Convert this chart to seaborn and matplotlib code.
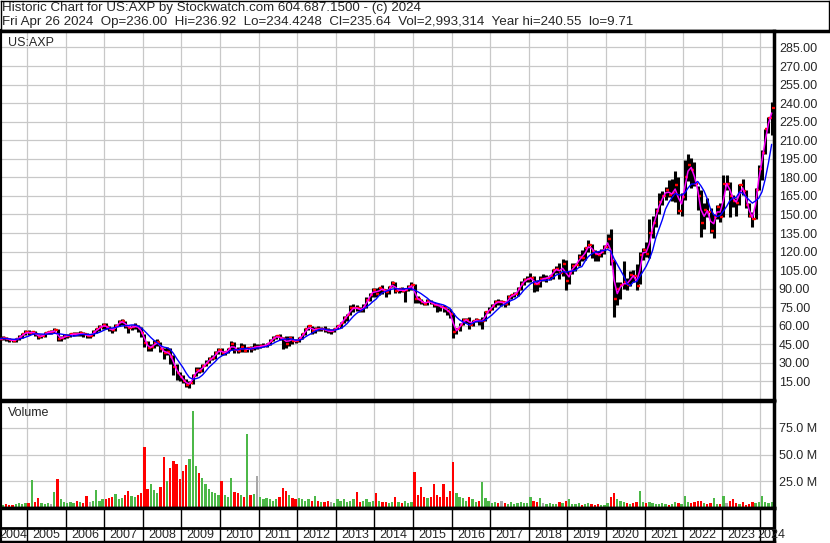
import numpy as np
import pandas as pd
import seaborn as sns
import matplotlib.pyplot as plt

title_line = "Historic Chart for US:AXP by Stockwatch.com 604.687.1500 - (c) 2024"
info_line = ("Fri Apr 26 2024  Op=236.00  Hi=236.92  Lo=234.4248  Cl=235.64  "
             "Vol=2,993,314  Year hi=240.55  lo=9.71")
symbol = "US:AXP"

# monthly values, Apr 2004 .. Apr 2024
close = [
    49.5, 50, 49.5, 48.5, 48, 49, 51, 53, 55,
    54, 55, 53, 51, 52, 54, 55, 55, 56.5, 49.5, 50, 51.5,
    52, 53, 53.5, 53, 54, 53, 52, 52, 55, 57, 59, 60.5,
    59, 57, 56.5, 60, 63, 63.5, 60, 58.5, 59, 60, 58, 54,
    46, 42, 43, 46, 46.5, 41, 38, 39, 35, 27, 22, 18.5,
    15.5, 12.5, 13.5, 19.5, 24, 23.5, 27.5, 30, 33, 34, 38, 40.5,
    38, 38.5, 41, 45, 40.5, 40, 43, 40, 42, 41.5, 43, 43,
    43.5, 44, 45, 48, 50.5, 51.5, 50, 49.5, 45.5, 50, 48, 47.5,
    50, 53, 57, 59.5, 56, 57.5, 57, 57.5, 56.5, 55.5, 55.5, 57,
    60, 62.5, 66.5, 69, 74, 74.5, 74, 72.5, 75.5, 81, 85, 89,
    86, 90.5, 89, 87, 91, 94.5, 88, 89.5, 88, 89, 91.5, 93,
    82, 81.5, 79, 78, 80, 78.5, 77, 76.5, 75, 74, 72, 69.5,
    55, 57, 61, 64.5, 65, 61, 64, 64.5, 63.5, 64, 71, 73,
    76, 79.5, 79, 79, 77.5, 83, 84.5, 85.5, 89.5, 94, 97, 98,
    99, 94, 93.5, 98, 98, 99, 100, 105, 106, 103, 110, 96,
    103, 108, 109, 116, 115, 122.5, 125, 120.5, 118, 117.5, 120, 124,
    130, 112, 82, 90, 93, 95, 93, 101, 100, 92, 117, 121,
    118, 135, 143, 153, 160, 165, 170, 166, 167, 174, 153, 164,
    180, 190, 186, 175, 165, 143, 154, 152, 137, 148, 156, 148,
    175, 175, 165, 161, 159, 174, 169, 158, 149, 146, 170, 187,
    200, 219, 228, 236,
]
high = [
    51, 51.5, 51, 50.5, 49.5, 50.5, 52.5, 54.5, 56.5,
    56.5, 56, 56, 53.5, 53, 55, 56, 56.5, 58, 57, 51.5, 53,
    53.5, 54.5, 55, 55, 55.5, 55, 54, 53.5, 56.5, 58.5, 60.5, 62,
    62, 60, 58.5, 61.5, 65, 65.5, 64, 61, 61, 62.5, 61, 59,
    53, 48, 45, 48.5, 49, 47, 42, 43, 42, 36, 29, 23,
    20, 17, 15.5, 21, 27, 26.5, 29, 32, 35, 36.5, 40, 42,
    42, 40, 42, 48, 47, 43, 46, 45, 43, 43.5, 46, 45,
    45, 46, 46, 49.5, 52, 52.5, 53, 51, 52, 51.5, 52, 49,
    51, 54, 58, 61, 60, 59, 59.5, 59, 60, 58, 57, 58,
    61, 63, 68, 69.5, 77, 78, 77, 75.5, 77.5, 83, 86.5, 90.5,
    90.5, 91.5, 93, 90, 92, 96, 95.5, 90.5, 91, 90.5, 93, 95,
    93.5, 84, 82, 79.5, 81.5, 80.5, 79.5, 78.5, 77, 76.5, 74.5, 73.5,
    70, 58, 62, 66, 66.5, 67, 65, 66, 65.5, 67, 72, 75.5,
    78, 81, 81.5, 80.5, 80, 84.5, 86, 87, 91, 96, 98.5, 100.5,
    102.5, 100, 97, 100, 102, 101, 101, 106, 108, 111, 114, 113,
    104.5, 111, 111, 118, 121, 124, 129, 126, 121, 120.5, 122, 125.5,
    134, 138, 113, 95, 95, 112, 99, 104, 105, 110, 120, 123,
    128, 146, 149, 155, 167, 169, 172, 178, 179, 185, 180, 167,
    194, 199, 196, 192, 173, 170, 159, 163, 155, 150, 158, 159,
    182, 182, 176, 166, 163, 175, 179, 170, 159, 152, 171, 190,
    202, 219, 229, 241,
]
low = [
    47.5, 48.5, 48, 47, 46.5, 47, 48.5, 50.5, 52.5,
    52.5, 53, 51.5, 49.5, 50, 51, 53, 53.5, 54, 47.5, 47.5, 49,
    50, 51, 52, 51.5, 52, 51, 50, 50, 51.5, 54, 56, 57.5,
    57, 55.5, 54, 56, 59.5, 61, 58.5, 54.5, 56.5, 57.5, 55, 51,
    43, 40, 39.5, 42, 44, 38.5, 33, 36, 29, 20, 16, 15.5,
    14, 10.5, 9.7, 13, 19, 22, 22.5, 27.5, 30, 32, 33.5, 37.5,
    36.5, 36, 38, 40.5, 38, 38, 39, 39, 39, 38.5, 40.5, 41.5,
    42, 42.5, 42.5, 44.5, 47.5, 49, 48.5, 41.5, 42, 44, 45.5, 46,
    47, 49.5, 52.5, 56.5, 53, 54, 55.5, 56, 55, 54, 53.5, 55,
    57, 58.5, 62, 64, 68.5, 71.5, 72, 71, 71.5, 74.5, 80, 83,
    83.5, 84.5, 86, 83, 86, 91, 86.5, 86.5, 87.5, 79, 88, 89,
    78.5, 78.5, 77.5, 76.5, 77, 77.5, 75, 71.5, 72, 71, 69, 66.5,
    50.5, 53, 56, 60.5, 62.5, 57.5, 59.5, 63, 61, 57.5, 64, 70,
    72.5, 75.5, 77, 76, 75.5, 76.5, 82, 83, 84, 89, 93, 95,
    95, 87.5, 88, 91, 96.5, 95, 97, 98, 103, 98, 100, 89,
    94, 101.5, 104, 108.5, 112, 113.5, 120, 115, 112, 112.5, 116, 118,
    123, 109, 67, 77, 82, 90, 89, 92, 95, 89, 94, 113,
    116, 115, 131, 140, 150, 158, 162, 164, 161, 160, 150, 149,
    162, 177, 171, 173, 154, 132, 138, 148, 135, 131, 146, 144,
    148, 170, 148, 156, 149, 158, 166, 155, 148, 140, 146, 170,
    178, 199, 216, 214,
]
volume_m = [
    4, 3, 4, 3, 3, 4, 5, 4, 5,
    5, 26, 6, 9, 5, 4, 5, 4, 15, 27, 8, 6,
    5, 6, 5, 7, 6, 5, 11, 6, 7, 17, 7, 8,
    8, 9, 10, 13, 8, 9, 12, 16, 11, 10, 12, 14,
    57, 18, 22, 17, 14, 20, 48, 25, 37, 44, 41, 27,
    35, 40, 46, 91, 39, 33, 28, 22, 18, 15, 14, 12,
    25, 12, 10, 28, 15, 14, 12, 10, 69, 12, 13, 30,
    10, 8, 9, 8, 7, 8, 10, 19, 16, 12, 9, 8,
    9, 8, 7, 8, 7, 11.5, 7, 6, 6, 7, 6, 5,
    8, 7, 8, 6, 7, 8, 14.5, 6, 7, 8, 6, 7,
    14, 7, 6, 6, 5, 6, 10.5, 6, 5, 7, 5, 6,
    34, 12, 20, 10, 9, 10, 22, 12, 10, 22, 10, 16,
    43, 14, 10, 9, 7, 10.5, 8, 6, 7, 24, 9, 7,
    5, 6, 5, 7, 5, 4, 6, 4, 5, 6, 5, 5,
    10.5, 7, 6, 9, 5, 4, 5, 4, 4, 6, 5, 7,
    8, 4, 4, 5, 3, 4, 5, 4, 3, 4, 3, 3,
    5, 10, 14, 8, 7, 6, 5, 4, 5, 6, 15.5, 6,
    5, 6, 5, 4, 4, 5, 4, 3, 4, 6, 5, 4,
    11.5, 6, 5, 6, 7, 7, 5, 4, 5, 9.5, 4, 4,
    11.5, 5, 7, 8, 5, 4, 6, 3, 4, 6, 5, 6,
    11.5, 6, 5, 6,
]
years = list(range(2004, 2025))
price_ticks = list(range(15, 286, 15))
volume_ticks = [25, 50, 75]

sns.set_style("white")
plt.rcParams['font.family'] = ['Liberation Sans', 'DejaVu Sans']
FS = 9
FS_HEAD = 9.6

n = len(close)
df = pd.DataFrame({
    'x': 2004.25 + (np.arange(n) + 0.5) / 12,
    'close': close, 'high': high, 'low': low, 'volume': volume_m,
})
df['ma_short'] = df['close'].rolling(2, min_periods=1).mean()
df['ma_long'] = df['close'].rolling(6, min_periods=1).mean()
prev = df['close'].shift(1).fillna(df['close'])
df['color'] = np.where(df['close'] > prev, '#4cb848',
                       np.where(df['close'] < prev, '#ff0000', '#a8a8a8'))

W, H = 830, 543


def box(l, t, r, b):
    return [l / W, 1 - b / H, (r - l) / W, (b - t) / H]


def px_year(px):
    return 2005 + (px - 27) / 38.6


x_lo, x_hi = px_year(0), px_year(774)
grid_kw = dict(color='#c8c8c8', lw=0.9)

fig = plt.figure(figsize=(8.3, 5.43), dpi=100)

# header
ax_h = fig.add_axes(box(0.5, 0.5, 828.5, 31))
ax_h.set_xticks([])
ax_h.set_yticks([])
for s in ['top', 'left', 'right']:
    ax_h.spines[s].set_linewidth(1)
ax_h.spines['bottom'].set_linewidth(2.5)
for s in ax_h.spines.values():
    s.set_color('black')
fig.text(2 / W, 1 - 8 / H, title_line, fontsize=FS_HEAD, va='center', ha='left')
fig.text(2 / W, 1 - 22 / H, info_line, fontsize=FS_HEAD, va='center', ha='left')

# price panel
ax_p = fig.add_axes(box(0, 31, 774, 400))
ax_p.set_axisbelow(True)
ax_p.vlines(df['x'], df['low'], df['high'], color='black', lw=2.2, zorder=2)
ax_p.plot(df['x'], df['close'], ls='none', marker=1, ms=2.5, mew=1.6,
          color='#ff0000', zorder=3)
ax_p.plot(df['x'], prev, ls='none', marker=0, ms=2.5, mew=1.6,
          color='#ff0000', zorder=3)
sns.lineplot(data=df, x='x', y='ma_short', color='#ff00ff', lw=1.1, ax=ax_p, zorder=4)
sns.lineplot(data=df, x='x', y='ma_long', color='#0000ff', lw=1.0, ax=ax_p, zorder=5)
ax_p.set_xlim(x_lo, x_hi)
ax_p.set_ylim(0, 298.3)
ax_p.set_xticks(years[1:])
ax_p.set_yticks(price_ticks)
ax_p.set_yticklabels([f"{v:.2f}" for v in price_ticks])
ax_p.grid(True, **grid_kw)
ax_p.set_xlabel('')
ax_p.set_ylabel('')
ax_p.tick_params(axis='x', length=0, labelbottom=False)
ax_p.tick_params(axis='y', length=0, pad=3.5, labelsize=FS, left=False,
                 labelleft=False, right=True, labelright=True)
ax_p.text(8 / 774, 0.9675, symbol, transform=ax_p.transAxes, fontsize=FS,
          va='center', ha='left')

# volume panel
ax_v = fig.add_axes(box(0, 401, 774, 508))
ax_v.set_axisbelow(True)
ax_v.bar(df['x'], df['volume'], width=0.72 / 12, color=df['color'], linewidth=0)
ax_v.set_xlim(x_lo, x_hi)
ax_v.set_ylim(0, 100)
ax_v.set_xticks(years[1:])
ax_v.set_yticks(volume_ticks)
ax_v.set_yticklabels([f"{v:.1f} M" for v in volume_ticks])
ax_v.grid(True, **grid_kw)
ax_v.tick_params(axis='x', length=0, labelbottom=False)
ax_v.tick_params(axis='y', length=0, pad=3.5, labelsize=FS, left=False,
                 labelleft=False, right=True, labelright=True)
ax_v.text(8 / 774, 0.888, "Volume", transform=ax_v.transAxes, fontsize=FS,
          va='center', ha='left')

# year strip
ax_x = fig.add_axes(box(0, 508, 774, 541.5))
ax_x.set_xlim(x_lo, x_hi)
ax_x.set_ylim(0, 1)
ax_x.set_xticks([])
ax_x.set_yticks([])
ax_x.vlines(years[1:], 0, 1, color='black', lw=1)
ax_x.axhline(14 / 33.5, color='black', lw=2)
for y in years:
    if y == 2004:
        ax_x.text(px_year(13), 0.2, str(y), fontsize=FS, ha='center', va='center')
    elif y == 2024:
        ax_x.text(px_year(757), 0.2, str(y), fontsize=FS, ha='left', va='center',
                  clip_on=False)
    else:
        ax_x.text(y + 0.5, 0.2, str(y), fontsize=FS, ha='center', va='center')

for a in (ax_p, ax_v, ax_x):
    for s in a.spines.values():
        s.set_color('black')
    a.spines['left'].set_linewidth(3)
    a.spines['right'].set_linewidth(2.5)
    a.spines['top'].set_linewidth(2.5)
    a.spines['bottom'].set_linewidth(2.5)

fig.savefig('out.png', dpi=100)
